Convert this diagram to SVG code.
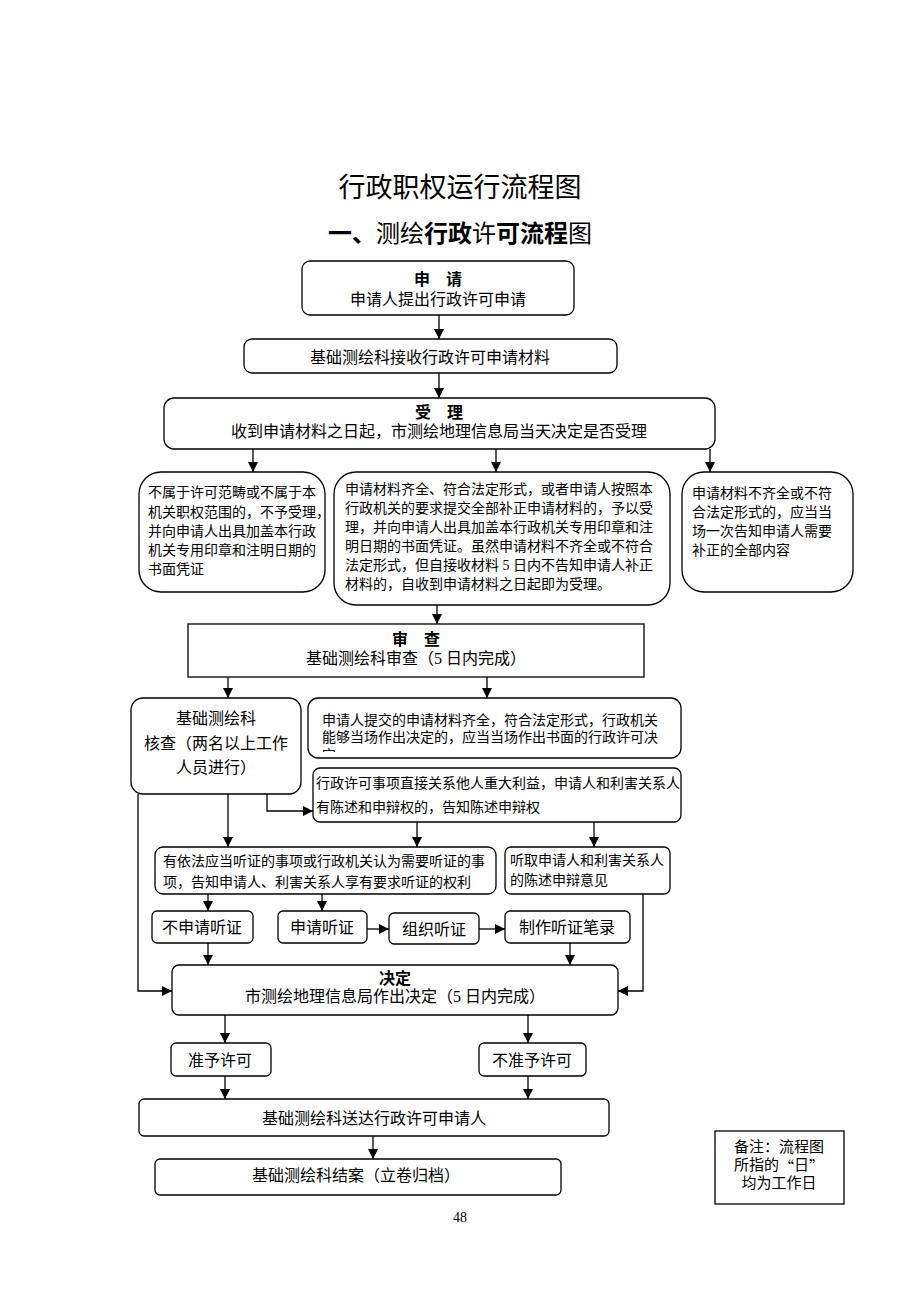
<svg xmlns="http://www.w3.org/2000/svg" width="920" height="1302" viewBox="0 0 920 1302">
<style>
.bx{fill:#fff;stroke:#000;stroke-width:1.3}
.t{font-family:"Liberation Serif","Noto Sans CJK SC",serif;fill:#000;dominant-baseline:central}
.c{text-anchor:middle}
.f16{font-size:16px}
.f14{font-size:14px}
.b{font-weight:bold;font-family:"Noto Sans CJK SC",sans-serif}
.cjk{font-family:"Noto Sans CJK SC",sans-serif}
.ttl{font-family:"Noto Sans CJK SC",sans-serif;fill:#000;text-anchor:middle;dominant-baseline:central}
.ln{fill:none;stroke:#000;stroke-width:1.3}
</style>
<defs>
<marker id="ah" markerUnits="userSpaceOnUse" markerWidth="10" markerHeight="10" viewBox="0 0 10 10" refX="10" refY="5" orient="auto">
<path d="M0,0 L10,5 L0,10 z" fill="#000"/>
</marker>
<clipPath id="clip6b"><rect x="308" y="698" width="373" height="54"/></clipPath>
</defs>
<rect width="920" height="1302" fill="#fff"/>

<g id="title">
<text class="ttl" x="460" y="185" font-size="27">行政职权运行流程图</text>
<text class="ttl" x="460" y="231" font-size="24"><tspan font-weight="bold">一、</tspan>测绘<tspan font-weight="bold">行政</tspan>许<tspan font-weight="bold">可流程</tspan>图</text>
</g>

<g id="connectors">
<path class="ln" d="M439,315 V339" marker-end="url(#ah)"/>
<path class="ln" d="M439,373 V398" marker-end="url(#ah)"/>
<path class="ln" d="M253,449 V472" marker-end="url(#ah)"/>
<path class="ln" d="M496,449 V472" marker-end="url(#ah)"/>
<path class="ln" d="M710,449 V472" marker-end="url(#ah)"/>
<path class="ln" d="M437,605 V624" marker-end="url(#ah)"/>
<path class="ln" d="M228,677 V698" marker-end="url(#ah)"/>
<path class="ln" d="M487,677 V698" marker-end="url(#ah)"/>
<path class="ln" d="M267,794 V811 H313" marker-end="url(#ah)"/>
<path class="ln" d="M228,794 V847" marker-end="url(#ah)"/>
<path class="ln" d="M138,794 V991 H172" marker-end="url(#ah)"/>
<path class="ln" d="M417,822 V847" marker-end="url(#ah)"/>
<path class="ln" d="M594,822 V847" marker-end="url(#ah)"/>
<path class="ln" d="M643,894 V991 H618" marker-end="url(#ah)"/>
<path class="ln" d="M208,894 V911" marker-end="url(#ah)"/>
<path class="ln" d="M322,894 V911" marker-end="url(#ah)"/>
<path class="ln" d="M367,929 H389" marker-end="url(#ah)"/>
<path class="ln" d="M479,929 H505" marker-end="url(#ah)"/>
<path class="ln" d="M208,943 V965" marker-end="url(#ah)"/>
<path class="ln" d="M570,943 V965" marker-end="url(#ah)"/>
<path class="ln" d="M225,1015 V1043" marker-end="url(#ah)"/>
<path class="ln" d="M528,1015 V1043" marker-end="url(#ah)"/>
<path class="ln" d="M225,1076 V1099" marker-end="url(#ah)"/>
<path class="ln" d="M528,1076 V1099" marker-end="url(#ah)"/>
<path class="ln" d="M373,1136 V1159" marker-end="url(#ah)"/>
</g>

<g id="n-apply">
<rect class="bx" x="302" y="261" width="272" height="54" rx="8"/>
<text class="t c f16 b" x="438" y="278">申　请</text>
<text class="t c f16" x="438" y="299">申请人提出行政许可申请</text>
</g>

<g id="n-receive">
<rect class="bx" x="244" y="339" width="373" height="34" rx="8"/>
<text class="t c f16" x="430" y="357">基础测绘科接收行政许可申请材料</text>
</g>

<g id="n-accept">
<rect class="bx" x="164" y="398" width="551" height="51" rx="10"/>
<text class="t c f16 b" x="439" y="411">受　理</text>
<text class="t c f16" x="439" y="431">收到申请材料之日起，市测绘地理信息局当天决定是否受理</text>
</g>

<g id="n-reject">
<rect class="bx" x="139" y="472" width="186" height="120" rx="22"/>
<text class="t f14" x="148" y="492">不属于许可范畴或不属于本</text>
<text class="t f14" x="148" y="512">机关职权范围的，不予受理，</text>
<text class="t f14" x="148" y="531">并向申请人出具加盖本行政</text>
<text class="t f14" x="148" y="550">机关专用印章和注明日期的</text>
<text class="t f14" x="148" y="569">书面凭证</text>
</g>

<g id="n-accepted">
<rect class="bx" x="334" y="472" width="336" height="133" rx="22"/>
<text class="t f14" x="345" y="489">申请材料齐全、符合法定形式，或者申请人按照本</text>
<text class="t f14" x="345" y="508">行政机关的要求提交全部补正申请材料的，予以受</text>
<text class="t f14" x="345" y="527">理，并向申请人出具加盖本行政机关专用印章和注</text>
<text class="t f14" x="345" y="546">明日期的书面凭证。虽然申请材料不齐全或不符合</text>
<text class="t f14" x="345" y="565">法定形式，但自接收材料 5 日内不告知申请人补正</text>
<text class="t f14" x="345" y="584">材料的，自收到申请材料之日起即为受理。</text>
</g>

<g id="n-supplement">
<rect class="bx" x="682" y="472" width="171" height="120" rx="22"/>
<text class="t f14" x="692" y="493">申请材料不齐全或不符</text>
<text class="t f14" x="692" y="512">合法定形式的，应当当</text>
<text class="t f14" x="692" y="531">场一次告知申请人需要</text>
<text class="t f14" x="692" y="550">补正的全部内容</text>
</g>

<g id="n-review">
<rect class="bx" x="188" y="624" width="456" height="53"/>
<text class="t c f16 b" x="416" y="638">审　查</text>
<text class="t c f16" x="416" y="658">基础测绘科审查（5 日内完成）</text>
</g>

<g id="n-verify">
<rect class="bx" x="131" y="698" width="170" height="96" rx="12"/>
<text class="t c f16" x="216" y="718">基础测绘科</text>
<text class="t c f16" x="216" y="743">核查（两名以上工作</text>
<text class="t c f16" x="216" y="767">人员进行）</text>
</g>

<g id="n-onsite">
<rect class="bx" x="308" y="698" width="373" height="60" rx="10"/>
<g clip-path="url(#clip6b)">
<text class="t f14" x="322" y="720">申请人提交的申请材料齐全，符合法定形式，行政机关</text>
<text class="t f14" x="322" y="737">能够当场作出决定的，应当当场作出书面的行政许可决</text>
<text class="t f14" x="322" y="755">定</text>
</g>
</g>

<g id="n-defense">
<rect class="bx" x="313" y="768" width="368" height="54" rx="7"/>
<text class="t f14" x="316" y="783">行政许可事项直接关系他人重大利益，申请人和利害关系人</text>
<text class="t f14" x="316" y="807">有陈述和申辩权的，告知陈述申辩权</text>
</g>

<g id="n-hearing-right">
<rect class="bx" x="155" y="847" width="341" height="47" rx="8"/>
<text class="t f14" x="163" y="861">有依法应当听证的事项或行政机关认为需要听证的事</text>
<text class="t f14" x="163" y="882">项，告知申请人、利害关系人享有要求听证的权利</text>
</g>

<g id="n-listen">
<rect class="bx" x="505" y="847" width="165" height="47" rx="6"/>
<text class="t f14" x="510" y="860">听取申请人和利害关系人</text>
<text class="t f14" x="510" y="880">的陈述申辩意见</text>
</g>

<g id="n-no-hearing">
<rect class="bx" x="152" y="911" width="101" height="32" rx="5"/>
<text class="t c f16" x="202" y="927">不申请听证</text>
</g>

<g id="n-req-hearing">
<rect class="bx" x="278" y="911" width="89" height="32" rx="5"/>
<text class="t c f16" x="322" y="927">申请听证</text>
</g>

<g id="n-org-hearing">
<rect class="bx" x="389" y="913" width="90" height="31" rx="5"/>
<text class="t c f16" x="434" y="929">组织听证</text>
</g>

<g id="n-record">
<rect class="bx" x="505" y="911" width="125" height="32" rx="5"/>
<text class="t c f16" x="567" y="927">制作听证笔录</text>
</g>

<g id="n-decide">
<rect class="bx" x="172" y="965" width="446" height="50" rx="7"/>
<text class="t c f16 b" x="395" y="977">决定</text>
<text class="t c f16" x="395" y="996">市测绘地理信息局作出决定（5 日内完成）</text>
</g>

<g id="n-grant">
<rect class="bx" x="171" y="1043" width="100" height="33" rx="5"/>
<text class="t c f16" x="220" y="1060">准予许可</text>
</g>

<g id="n-deny">
<rect class="bx" x="479" y="1043" width="107" height="33" rx="5"/>
<text class="t c f16" x="532" y="1060">不准予许可</text>
</g>

<g id="n-deliver">
<rect class="bx" x="139" y="1099" width="470" height="37" rx="5"/>
<text class="t c f16" x="374" y="1118">基础测绘科送达行政许可申请人</text>
</g>

<g id="n-close">
<rect class="bx" x="155" y="1159" width="406" height="36" rx="5"/>
<text class="t c f16" x="356" y="1175">基础测绘科结案（立卷归档）</text>
</g>

<g id="n-note">
<rect class="bx" x="715" y="1131" width="129" height="73"/>
<text class="t c" font-size="15" x="779" y="1147">备注：流程图</text>
<text class="t c" font-size="15" x="779" y="1165">所指的<tspan class="cjk">“</tspan>日<tspan class="cjk">”</tspan></text>
<text class="t c" font-size="15" x="779" y="1183">均为工作日</text>
</g>

<g id="page-number">
<text class="t c" x="460" y="1217" font-size="14">48</text>
</g>
</svg>
